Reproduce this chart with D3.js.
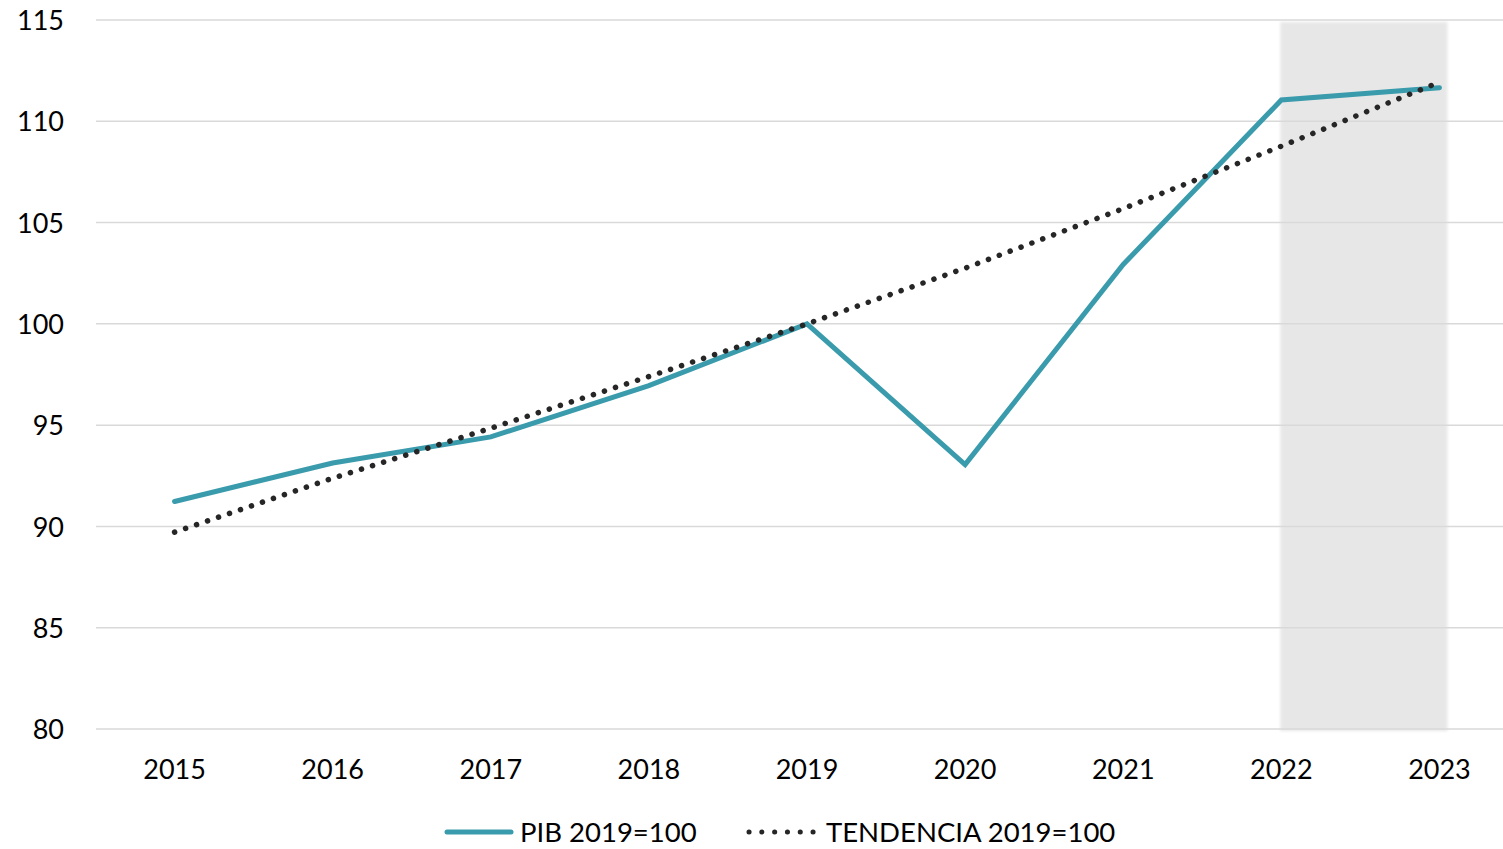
<!DOCTYPE html>
<html><head><meta charset="utf-8">
<script src="https://cdn.jsdelivr.net/npm/d3@7"></script>
<style>
body{margin:0;background:#fff;}
svg{display:block;font-family:Lato,"Open Sans",sans-serif;}
</style></head>
<body>
<svg id="chart" width="1503" height="849"></svg>
<script>
const years = ["2015","2016","2017","2018","2019","2020","2021","2022","2023"];
const pib = [91.23, 93.13, 94.42, 96.95, 100, 93.05, 102.93, 111.05, 111.66];
const tendencia = [89.72, 92.38, 94.85, 97.4, 100, 102.75, 105.69, 108.77, 111.93];
const yTicks = [80, 85, 90, 95, 100, 105, 110, 115];
const shadedYears = ["2022","2023"];
const seriesNames = ["PIB 2019=100", "TENDENCIA 2019=100"];

(function(){
const svg = d3.select("#chart");
const pLeft = 96, pRight = 1503, pTop = 20, pBottom = 729;
const fs = 27;

const x = d3.scaleBand().domain(years).range([95.5, 1518.5]);
const xc = d => x(d) + x.bandwidth()/2;
const y = d3.scaleLinear().domain([80, 115]).range([pBottom, pTop]);

const defs = svg.append("defs");
defs.append("filter").attr("id","soft").attr("x","-5%").attr("y","-1%").attr("width","110%").attr("height","102%")
  .append("feGaussianBlur").attr("stdDeviation", 1.5);

// shaded projection area
svg.append("rect")
  .attr("x", xc(shadedYears[0]) - 1)
  .attr("y", y(115) + 2)
  .attr("width", xc(shadedYears[1]) - xc(shadedYears[0]) + 9)
  .attr("height", y(80) - y(115))
  .attr("fill", "#e7e7e7")
  .attr("filter", "url(#soft)");

// gridlines
svg.append("g").selectAll("line").data(yTicks).join("line")
  .attr("x1", pLeft).attr("x2", pRight)
  .attr("y1", d => y(d)).attr("y2", d => y(d))
  .attr("stroke", "#d9d9d9").attr("stroke-width", 1.5);

// y axis labels
const yAxis = svg.append("g").attr("transform", `translate(64,1)`)
  .call(d3.axisLeft(y).tickValues(yTicks).tickSize(0).tickPadding(0));
yAxis.select(".domain").remove();
yAxis.selectAll("text").attr("font-size", fs).attr("fill", "#000").attr("font-family", "Lato, sans-serif");

// x axis labels
const xAxis = svg.append("g").attr("transform", `translate(0,${pBottom})`)
  .call(d3.axisBottom(x).tickSize(0).tickPadding(31));
xAxis.select(".domain").remove();
xAxis.selectAll("text").attr("font-size", fs).attr("fill", "#000").attr("font-family", "Lato, sans-serif");

// lines
const line = d3.line().x((d,i) => xc(years[i])).y(d => y(d));
svg.append("path").datum(pib).attr("d", line)
  .attr("fill","none").attr("stroke","#3a9bac").attr("stroke-width",5)
  .attr("stroke-linejoin","miter").attr("stroke-linecap","round");
svg.append("path").datum(tendencia).attr("d", line)
  .attr("fill","none").attr("stroke","#262626").attr("stroke-width",5.5)
  .attr("stroke-dasharray","0.1 11.5").attr("stroke-linecap","round");

// legend
const lg = svg.append("g").attr("transform","translate(0,832)");
lg.append("line").attr("x1",447).attr("x2",511).attr("y1",0).attr("y2",0)
  .attr("stroke","#3a9bac").attr("stroke-width",5).attr("stroke-linecap","round");
lg.append("text").attr("x",520).attr("y",10).attr("font-size",27.5).text(seriesNames[0]);
lg.append("line").attr("x1",749).attr("x2",815).attr("y1",0).attr("y2",0)
  .attr("stroke","#262626").attr("stroke-width",5).attr("stroke-dasharray","0.1 12.7").attr("stroke-linecap","round");
lg.append("text").attr("x",826).attr("y",10).attr("font-size",27.5).text(seriesNames[1]);
})();
</script>
</body></html>
